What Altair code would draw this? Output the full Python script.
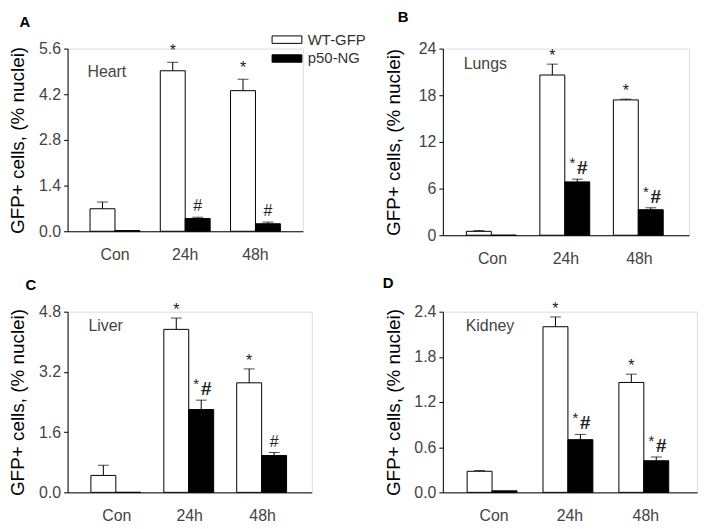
import altair as alt
import pandas as pd

times = ["Con", "24h", "48h"]
series = ["WT-GFP", "p50-NG"]
y_title = "GFP+ cells, (% nuclei)"

# Heart (A)
heart_wt = [0.69, 4.92, 4.31]
heart_wt_err = [0.21, 0.26, 0.35]
heart_p50 = [0.02, 0.39, 0.23]
heart_p50_err = [None, 0.04, 0.05]
heart_wt_ann = ["", "*", "*"]
heart_p50_ann = ["", "#", "#"]
heart_ticks = [0.0, 1.4, 2.8, 4.2, 5.6]

# Lungs (B)
lungs_wt = [0.5, 20.6, 17.4]
lungs_wt_err = [0.1, 1.4, 0.1]
lungs_p50 = [0.0, 6.86, 3.28]
lungs_p50_err = [None, 0.35, 0.25]
lungs_wt_ann = ["", "*", "*"]
lungs_p50_ann = ["", "*#", "*#"]
lungs_ticks = [0, 6, 12, 18, 24]

# Liver (C)
liver_wt = [0.45, 4.33, 2.91]
liver_wt_err = [0.27, 0.30, 0.37]
liver_p50 = [0.0, 2.2, 0.98]
liver_p50_err = [None, 0.25, 0.08]
liver_wt_ann = ["", "*", "*"]
liver_p50_ann = ["", "*#", "#"]
liver_ticks = [0.0, 1.6, 3.2, 4.8]

# Kidney (D)
kidney_wt = [0.28, 2.2, 1.46]
kidney_wt_err = [0.01, 0.13, 0.11]
kidney_p50 = [0.02, 0.70, 0.42]
kidney_p50_err = [None, 0.07, 0.05]
kidney_wt_ann = ["", "*", "*"]
kidney_p50_ann = ["", "*#", "*#"]
kidney_ticks = [0.0, 0.6, 1.2, 1.8, 2.4]

FONT = "Liberation Sans"


def make_df(wt, wt_err, p50, p50_err, wt_ann, p50_ann):
    rows = []
    for s, vals, errs, anns in [(series[0], wt, wt_err, wt_ann), (series[1], p50, p50_err, p50_ann)]:
        for t, v, e, a in zip(times, vals, errs, anns):
            top = v + e if e is not None else None
            rows.append({"time": t, "series": s, "value": v, "top": top,
                         "ann": a, "ann_y": top if top is not None else v})
    return pd.DataFrame(rows)


def panel(letter, organ, data, ticks, fmt, width, height, letter_pos, organ_pos,
          show_legend=False, star_dy=-3):
    df = make_df(*data)
    base = alt.Chart(df)
    x = alt.X("time:N", sort=times,
              scale=alt.Scale(paddingInner=0.29, paddingOuter=0.32),
              axis=alt.Axis(title=None, labelAngle=0, ticks=False, labelPadding=15,
                            labelFontSize=16, labelColor="#444", domainColor="black",
                            labelFont=FONT))
    xo = alt.XOffset("series:N", sort=series, scale=alt.Scale(paddingInner=0, paddingOuter=0))
    yaxis = alt.Axis(values=ticks, format=fmt, grid=False, tickSize=4, tickColor="black",
                     domainColor="black", labelFontSize=16, labelColor="#444", labelPadding=3,
                     labelFont=FONT, titleFont=FONT, titleFontSize=19, titleFontWeight="normal",
                     titleColor="black", titleX=-40, titleY=height / 2)
    yscale = alt.Scale(domain=[ticks[0], ticks[-1]], nice=False, zero=True)

    def Y(field):
        return alt.Y(field, scale=yscale, axis=yaxis, title=y_title)

    if show_legend:
        leg = alt.Legend(title=None, orient="none", legendX=213, legendY=-17,
                         symbolType="M-2,-0.5H2V0.5H-2Z", symbolSize=225,
                         symbolStrokeColor="black", symbolStrokeWidth=1,
                         labelFontSize=15, labelColor="#333", labelFont=FONT,
                         labelOffset=13, rowPadding=3)
    else:
        leg = None

    bars = base.mark_bar(stroke="black", strokeWidth=1).encode(
        x=x, xOffset=xo, y=Y("value:Q"),
        color=alt.Color("series:N", scale=alt.Scale(domain=series, range=["white", "black"]),
                        legend=leg))
    errs = base.transform_filter("isValid(datum.top)")
    rules = errs.mark_rule(color="black", strokeWidth=1).encode(
        x=x, xOffset=xo, y=Y("value:Q"), y2="top:Q")
    caps = errs.mark_tick(color="black", size=11, thickness=1, orient="horizontal").encode(
        x=x, xOffset=xo, y=Y("top:Q"))
    ann_wt = base.transform_filter(alt.datum.series == series[0]).mark_text(
        baseline="alphabetic", dy=star_dy, fontSize=16, font=FONT, color="#222").encode(
        x=x, xOffset=xo, y=Y("ann_y:Q"), text="ann:N")
    p50 = base.transform_filter(alt.datum.series == series[1])
    # single "#"
    hash_only = p50.transform_filter(alt.datum.ann == "#").mark_text(
        baseline="alphabetic", dy=-6, fontSize=16, font=FONT, color="#222").encode(
        x=x, xOffset=xo, y=Y("ann_y:Q"), text="ann:N")
    # "*#": small star, larger hash
    combo = p50.transform_filter(alt.datum.ann == "*#")
    combo_star = combo.transform_calculate(part="'*'").mark_text(
        baseline="alphabetic", dy=-11, dx=-5, fontSize=15, font=FONT, color="#222").encode(
        x=x, xOffset=xo, y=Y("ann_y:Q"), text="part:N")
    combo_hash = combo.transform_calculate(part="'#'").mark_text(
        baseline="alphabetic", dy=-5, dx=5, fontSize=19, font=FONT, fontWeight="bold",
        color="#222").encode(
        x=x, xOffset=xo, y=Y("ann_y:Q"), text="part:N")

    letter_mark = alt.Chart(pd.DataFrame({"t": [letter]})).mark_text(
        align="center", baseline="middle", fontSize=15, fontWeight="bold", font=FONT,
        color="black").encode(x=alt.value(letter_pos[0]), y=alt.value(letter_pos[1]), text="t:N")
    organ_mark = alt.Chart(pd.DataFrame({"t": [organ]})).mark_text(
        align="left", baseline="middle", fontSize=16, font=FONT,
        color="#444").encode(x=alt.value(organ_pos[0]), y=alt.value(organ_pos[1]), text="t:N")

    return alt.layer(bars, rules, caps, ann_wt, hash_only, combo_star, combo_hash,
                     letter_mark, organ_mark).properties(width=width, height=height)


pA = panel("A", "Heart",
           (heart_wt, heart_wt_err, heart_p50, heart_p50_err, heart_wt_ann, heart_p50_ann),
           heart_ticks, ".1f", 237, 184, (-43, -27), (20, 24), show_legend=True, star_dy=-6)
pB = panel("B", "Lungs",
           (lungs_wt, lungs_wt_err, lungs_p50, lungs_p50_err, lungs_wt_ann, lungs_p50_ann),
           lungs_ticks, "d", 248, 188, (-40, -31.5), (21, 16))
pC = panel("C", "Liver",
           (liver_wt, liver_wt_err, liver_p50, liver_p50_err, liver_wt_ann, liver_p50_ann),
           liver_ticks, ".1f", 246, 182, (-37, -27), (21, 14))
pD = panel("D", "Kidney",
           (kidney_wt, kidney_wt_err, kidney_p50, kidney_p50_err, kidney_wt_ann, kidney_p50_ann),
           kidney_ticks, ".1f", 256, 182, (-55, -29), (23, 14))

chart = alt.concat(pA, pB, pC, pD, columns=2, spacing={"row": 77, "column": 132}).properties(
    bounds="flush", padding={"left": 0, "top": 0, "right": 0, "bottom": 0}
).resolve_scale(color="independent").configure_view(stroke=None).configure(
    background="white", font=FONT)

chart.save("out.html", embed_options={"renderer": "svg", "actions": False})
